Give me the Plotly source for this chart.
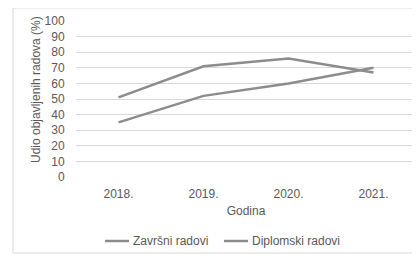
import plotly.graph_objects as go

years = ["2018.", "2019.", "2020.", "2021."]
zavrsni = [35, 52, 60, 70]
diplomski = [51, 71, 76, 67]
y_ticks = [0, 10, 20, 30, 40, 50, 60, 70, 80, 90, 100]
series_names = ["Završni radovi", "Diplomski radovi"]
y_title = "Udio objavljenih radova (%)"
x_title = "Godina"

line_color = "#8c8c8c"
text_color = "#595959"
font = "Liberation Sans, Arial, sans-serif"

# page body has an 8px margin; figure is sized/placed to compensate
OFF = 8
FIG_W, FIG_H = 420 - OFF, 255 - OFF
L, T, W, H = 76, 21, 340, 156  # plot area in page pixels


def px(x):
    return (x - L) / W


def py(y):
    return (T + H - y) / H


fig = go.Figure()
for name, vals in zip(series_names, [zavrsni, diplomski]):
    fig.add_trace(go.Scatter(x=years, y=vals, mode="lines", name=name,
                             line=dict(color=line_color, width=2.5), showlegend=False))

fig.update_layout(
    width=FIG_W, height=FIG_H,
    margin=dict(l=L - OFF, r=FIG_W - (L - OFF) - W, t=T - OFF, b=FIG_H - (T - OFF) - H,
                autoexpand=False),
    paper_bgcolor="white", plot_bgcolor="white",
    font=dict(family=font, size=12, color=text_color),
    xaxis=dict(type="category", range=[-0.5, 3.5], showgrid=False, showline=False,
               zeroline=False, ticks="outside", ticklen=6, tickcolor="rgba(0,0,0,0)",
               tickfont=dict(size=12), automargin=False,
               title=dict(text=x_title, font=dict(size=12, color=text_color), standoff=6)),
    yaxis=dict(range=[0, 100], tickvals=y_ticks, showgrid=True, gridcolor="#d9d9d9",
               gridwidth=1, zeroline=False, showline=False, automargin=False,
               ticks="outside", ticklen=8, tickcolor="rgba(0,0,0,0)",
               tickfont=dict(size=12)),
)

# y-axis title (placed to match the reference's vertical offset)
fig.add_annotation(xref="paper", yref="paper", x=px(36), y=py(90), textangle=-90,
                   xanchor="center", yanchor="middle", text=y_title, showarrow=False,
                   font=dict(size=12, color=text_color))

# chart frame border
fig.add_shape(type="rect", xref="paper", yref="paper",
              x0=px(13), x1=px(430), y0=py(253), y1=py(8),
              line=dict(color="#d9d9d9", width=1), fillcolor="rgba(0,0,0,0)", layer="below")

# legend (manual, to match short line keys)
legend_items = [(105, 129, 131), (224, 248, 250)]
for (lx0, lx1, tx), name in zip(legend_items, series_names):
    fig.add_shape(type="line", xref="paper", yref="paper",
                  x0=px(lx0), x1=px(lx1), y0=py(241), y1=py(241),
                  line=dict(color=line_color, width=2.5))
    fig.add_annotation(xref="paper", yref="paper", x=px(tx), y=py(241),
                       xanchor="left", yanchor="middle", text=name, showarrow=False,
                       font=dict(size=12, color=text_color))

fig.write_html("out.html")
